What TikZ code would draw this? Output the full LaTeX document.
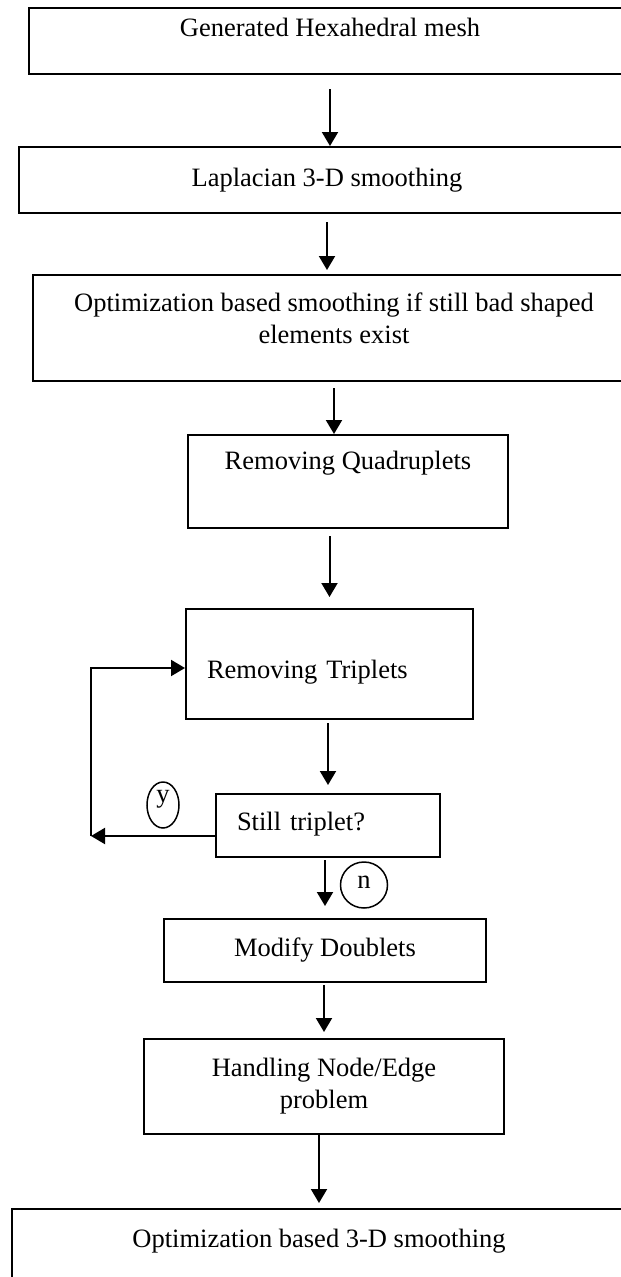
\documentclass[tikz,border=0pt]{standalone}
\usepackage{fontspec}
\setmainfont{Liberation Serif}
\usetikzlibrary{arrows.meta,positioning,shapes.geometric}
\tikzset{
  stage/.style={draw=black,line width=2pt,inner xsep=0pt,inner ysep=0pt,anchor=north west,align=center,font=\fontsize{26.5pt}{32pt}\selectfont},
  leftstage/.style={stage,align=left,inner xsep=21pt},
  tag/.style={draw=black,ellipse,line width=1.5pt,inner sep=0pt,font=\fontsize{26.5pt}{32pt}\selectfont},
  flow/.style={-{Triangle[length=14pt,width=16pt]},line width=2pt,draw=black}
}
\begin{document}
\begin{tikzpicture}[x=1pt,y=-1pt]
  \clip (0,0) rectangle (621,1277);
  \node[stage, minimum width=602pt, text height=28pt, text depth=38pt] (s1) at (28,7) {Generated Hexahedral mesh};
  \node[stage, minimum width=616pt, text height=39pt, text depth=27pt] (s2) at (18,146) {Laplacian 3-D smoothing};
  \node[stage, minimum width=602pt, text height=68pt, text depth=38pt] (s3) at (32,274) {Optimization based smoothing if still bad shaped\\elements exist};
  \node[stage, minimum width=320pt, text height=34pt, text depth=59pt] (s4) at (187,434) {Removing Quadruplets};
  \node[leftstage, text width=245pt, text height=69pt, text depth=41pt] (s5) at (185,608) {Removing Triplets};
  \node[leftstage, text width=182pt, text height=36pt, text depth=27pt] (s6) at (215,793) {Still triplet?};
  \node[stage, minimum width=322pt, text height=37pt, text depth=26pt] (s7) at (163,918) {Modify Doublets};
  \node[stage, minimum width=360pt, text height=69pt, text depth=26pt] (s8) at (143,1038) {Handling Node/Edge\\problem};
  \node[stage, minimum width=614pt, text height=38pt, text depth=80pt] (s9) at (11,1208) {Optimization based 3-D smoothing};

  % answer tags
  \node[tag, minimum width=32pt, minimum height=46pt, text height=12pt, text depth=18pt] (yes) at (163,805) {y};
  \node[tag, minimum width=47pt, minimum height=46pt, text height=12pt, text depth=6pt] (no) at (364,885) {n};

  \foreach \a/\b/\s/\e in {s1/s2/14pt/0pt,s2/s3/8pt/4pt,s3/s4/6pt/0pt}
    \draw[flow, shorten <=\s, shorten >=\e] (\a.south) -- (\a.south |- \b.north);
  \foreach \a/\b/\s/\e in {s4/s5/7pt/11pt,s5/s6/3pt/8pt,s6/s7/2pt/12pt,s7/s8/2pt/6pt,s8/s9/0pt/5pt}
    \draw[flow, shorten <=\s, shorten >=\e] (\a.south -| \b.north) -- (\b.north);

  % loop back while triplets remain
  \coordinate (c1) at (91,836);
  \coordinate (c2) at (91,668);
  \draw[flow] (s6.west |- c1) -- (c1);
  \draw[flow] (c1) -- (c2) -- (s5.west |- c2);
\end{tikzpicture}
\end{document}
